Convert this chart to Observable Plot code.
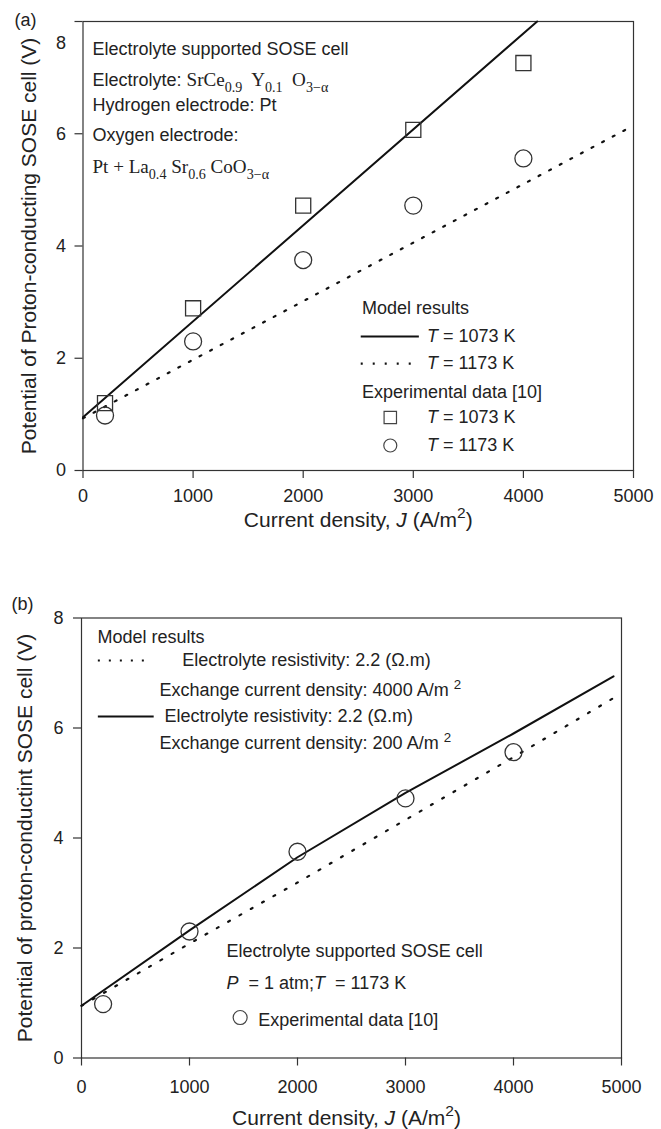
<!DOCTYPE html>
<html><head><meta charset="utf-8">
<script src="https://cdn.jsdelivr.net/npm/d3@7"></script>
<script src="https://cdn.jsdelivr.net/npm/@observablehq/plot@0.6"></script>
<style>
html,body{margin:0;padding:0;background:#fff;overflow:hidden}
#chart svg{display:block}
</style></head><body><div id="chart"></div>
<script>
// ---------- data ----------
const xTicks = [0, 1000, 2000, 3000, 4000, 5000];
const yTicks = [0, 2, 4, 6, 8];
const jExp = [200, 1000, 2000, 3000, 4000];
const vExp1073 = [1.20, 2.89, 4.72, 6.07, 7.26];
const vExp1173 = [0.98, 2.30, 3.75, 4.72, 5.56];
// panel (a) model curves
const jModelA1073 = [0, 4125];
const vModelA1073 = [0.95, 8.0];
const jModelA1173 = [0, 4955];
const vModelA1173 = [0.93, 6.10];
// panel (b) model curves
const jModelB200 = [0, 1000, 2000, 3000, 4000, 4926];
const vModelB200 = [0.95, 2.32, 3.65, 4.82, 5.90, 6.94];
const jModelB4000 = [0, 1000, 2000, 3000, 4000, 4913];
const vModelB4000 = [0.95, 2.08, 3.19, 4.33, 5.47, 6.53];
// texts
const yTitleA = "Potential of Proton-conducting SOSE cell (V)";
const yTitleB = "Potential of proton-conductint SOSE cell (V)";
const xTitle = "Current density, *J* (A/m^{2})";

// ---------- annotation layout (data units) ----------
const notesA = [
  {x: 86, y: 7.50, t: "Electrolyte supported SOSE cell"},
  {x: 86, y: 6.95, t: "Electrolyte: §SrCe_{0.9}  Y_{0.1}  O_{3\u2212\u03b1}§"},
  {x: 86, y: 6.50, t: "Hydrogen electrode: Pt"},
  {x: 86, y: 5.97, t: "Oxygen electrode:"},
  {x: 86, y: 5.40, t: "§Pt + La_{0.4} Sr_{0.6} CoO_{3\u2212\u03b1}§"},
  {x: 2533, y: 2.886, t: "Model results"},
  {x: 3124, y: 2.388, t: "*T* = 1073 K"},
  {x: 3124, y: 1.906, t: "*T* = 1173 K"},
  {x: 2533, y: 1.390, t: "Experimental data [10]"},
  {x: 3124, y: 0.944, t: "*T* = 1073 K"},
  {x: 3124, y: 0.445, t: "*T* = 1173 K"}
];
const notesB = [
  {x: 148, y: 7.645, t: "Model results"},
  {x: 932, y: 7.227, t: "Electrolyte resistivity: 2.2 (\u03a9.m)"},
  {x: 722, y: 6.682, t: "Exchange current density: 4000 A/m ^{2}"},
  {x: 769, y: 6.209, t: "Electrolyte resistivity: 2.2 (\u03a9.m)"},
  {x: 722, y: 5.718, t: "Exchange current density: 200 A/m ^{2}"},
  {x: 1343, y: 1.936, t: "Electrolyte supported SOSE cell"},
  {x: 1343, y: 1.355, t: "*P*  = 1 atm;*T*  = 1173 K"},
  {x: 1636, y: 0.682, t: "Experimental data [10]"}
];

const SANS = "'Liberation Sans', Arial, Helvetica, sans-serif";
const SERIF = "'Liberation Serif', 'Times New Roman', serif";
const INK = "#222";

const pts = (xs, ys) => xs.map((x, i) => ({x, y: ys[i]}));
const fmt = d => String(d);

function axes(tickPadX, tickPadY, hideTop) {
  return [
    Plot.frame({stroke: "#333", strokeWidth: 1.2}),
    Plot.axisX({ticks: xTicks, tickSize: 8, tickPadding: tickPadX, tickFormat: fmt, label: null, stroke: "#333", strokeWidth: 1.2}),
    Plot.axisY({ticks: yTicks, tickSize: 8, tickPadding: tickPadY, tickFormat: d => (hideTop && d === 8 ? "" : fmt(d)), label: null, stroke: "#333", strokeWidth: 1.2})
  ];
}
const center = {textAnchor: "middle", lineAnchor: "middle"};

const plotA = Plot.plot({
  width: 661, height: 529,
  marginTop: 21, marginLeft: 82.5, marginRight: 28, marginBottom: 59,
  x: {domain: [0, 5000]}, y: {domain: [0, 8]},
  style: {fontFamily: SANS, fontSize: "18px", color: INK, background: "white", overflow: "visible"},
  marks: [
    ...axes(11, 9, true),
    Plot.text([8], {x: 0, y: d => d, text: fmt, dx: -17, dy: 22, textAnchor: "end"}),
    Plot.text([yTitleA], {frameAnchor: "left", rotate: -90, dx: -53.5, fontSize: 21, text: d => d, ...center}),
    Plot.text([xTitle], {frameAnchor: "bottom", dy: 50, fontSize: 21, text: d => d, ...center}),
    Plot.text(["(a)"], {frameAnchor: "top-left", dx: -57.5, dy: -1, text: d => d, ...center}),
    Plot.line(pts(jModelA1073, vModelA1073), {x: "x", y: "y", stroke: "#111", strokeWidth: 2}),
    Plot.line(pts(jModelA1173, vModelA1173), {x: "x", y: "y", stroke: "#111", strokeWidth: 2.2, strokeDasharray: "2,10"}),
    Plot.dot(pts(jExp, vExp1073), {x: "x", y: "y", symbol: "square", r: 8.5, fill: "none", stroke: "#333", strokeWidth: 1.3}),
    Plot.dot(pts(jExp, vExp1173), {x: "x", y: "y", symbol: "circle", r: 8.5, fill: "none", stroke: "#333", strokeWidth: 1.3}),
    // legend samples
    Plot.ruleY([2.388], {x1: 2527, x2: 3055, stroke: "#111", strokeWidth: 2}),
    Plot.ruleY([1.906], {x1: 2527, x2: 2995, stroke: "#111", strokeWidth: 2.2, strokeDasharray: "2,10"}),
    Plot.dot([{x: 2791, y: 0.944}], {x: "x", y: "y", symbol: "square", r: 7, fill: "none", stroke: "#444", strokeWidth: 1.2}),
    Plot.dot([{x: 2791, y: 0.445}], {x: "x", y: "y", symbol: "circle", r: 6.5, fill: "none", stroke: "#444", strokeWidth: 1.2}),
    Plot.text(notesA, {x: "x", y: "y", text: "t", textAnchor: "start", fill: INK})
  ]
});

const plotB = Plot.plot({
  width: 661, height: 600,
  marginTop: 88.5, marginLeft: 81, marginRight: 40, marginBottom: 71.5,
  x: {domain: [0, 5000]}, y: {domain: [0, 8]},
  style: {fontFamily: SANS, fontSize: "18px", color: INK, background: "white", overflow: "visible"},
  marks: [
    ...axes(14.5, 10, false),
    Plot.text([yTitleB], {frameAnchor: "left", rotate: -90, dx: -56, fontSize: 21, text: d => d, ...center}),
    Plot.text([xTitle], {frameAnchor: "bottom", dy: 60, dx: -5, fontSize: 21, text: d => d, ...center}),
    Plot.text(["(b)"], {frameAnchor: "top-left", dx: -59, dy: -13.5, text: d => d, ...center}),
    Plot.line(pts(jModelB4000, vModelB4000), {x: "x", y: "y", stroke: "#111", strokeWidth: 2.2, strokeDasharray: "2,11"}),
    Plot.line(pts(jModelB200, vModelB200), {x: "x", y: "y", stroke: "#111", strokeWidth: 2}),
    Plot.dot(pts(jExp, vExp1173), {x: "x", y: "y", symbol: "circle", r: 8.5, fill: "none", stroke: "#333", strokeWidth: 1.3}),
    // legend samples
    Plot.ruleY([7.227], {x1: 156, x2: 650, stroke: "#111", strokeWidth: 2.2, strokeDasharray: "2,9"}),
    Plot.ruleY([6.209], {x1: 156, x2: 673, stroke: "#111", strokeWidth: 2}),
    Plot.dot([{x: 1469, y: 0.736}], {x: "x", y: "y", symbol: "circle", r: 7, fill: "none", stroke: "#444", strokeWidth: 1.2}),
    Plot.text(notesB, {x: "x", y: "y", text: "t", textAnchor: "start", fill: INK})
  ]
});

const host = document.getElementById("chart");
host.appendChild(plotA);
host.appendChild(plotB);

// ---------- rich text: §serif§, *italic*, _{sub}, ^{sup} ----------
function parseRich(s) {
  const runs = []; let serif = false, italic = false, shift = 0, buf = "";
  const push = () => { if (buf) runs.push({t: buf, serif, italic, shift}); buf = ""; };
  for (let i = 0; i < s.length; i++) {
    const c = s[i];
    if (c === "\u00a7") { push(); serif = !serif; }
    else if (c === "*") { push(); italic = !italic; }
    else if ((c === "_" || c === "^") && s[i + 1] === "{") { push(); shift = c === "_" ? 1 : -1; i++; }
    else if (c === "}" && shift !== 0) { push(); shift = 0; }
    else buf += c;
  }
  push();
  return runs;
}
function richText(root) {
  root.querySelectorAll("text").forEach(el => {
    if (el.querySelector("tspan")) return;
    const s = el.textContent;
    if (!/[\u00a7*]|[_^]\{/.test(s)) return;
    const base = parseFloat(getComputedStyle(el).fontSize) || 18;
    const runs = parseRich(s);
    el.textContent = "";
    let cur = 0;
    for (const r of runs) {
      const ts = document.createElementNS("http://www.w3.org/2000/svg", "tspan");
      const size = r.serif ? base * 1.06 : base;
      const target = r.shift === 1 ? base * 0.32 : r.shift === -1 ? -base * 0.42 : 0;
      if (target !== cur) { ts.setAttribute("dy", target - cur); cur = target; }
      if (r.shift) ts.setAttribute("font-size", size * 0.74);
      else if (r.serif) ts.setAttribute("font-size", size);
      if (r.serif) ts.setAttribute("font-family", SERIF);
      if (r.italic) ts.setAttribute("font-style", "italic");
      ts.textContent = r.t;
      el.appendChild(ts);
    }
  });
}
richText(host);
</script></body></html>
